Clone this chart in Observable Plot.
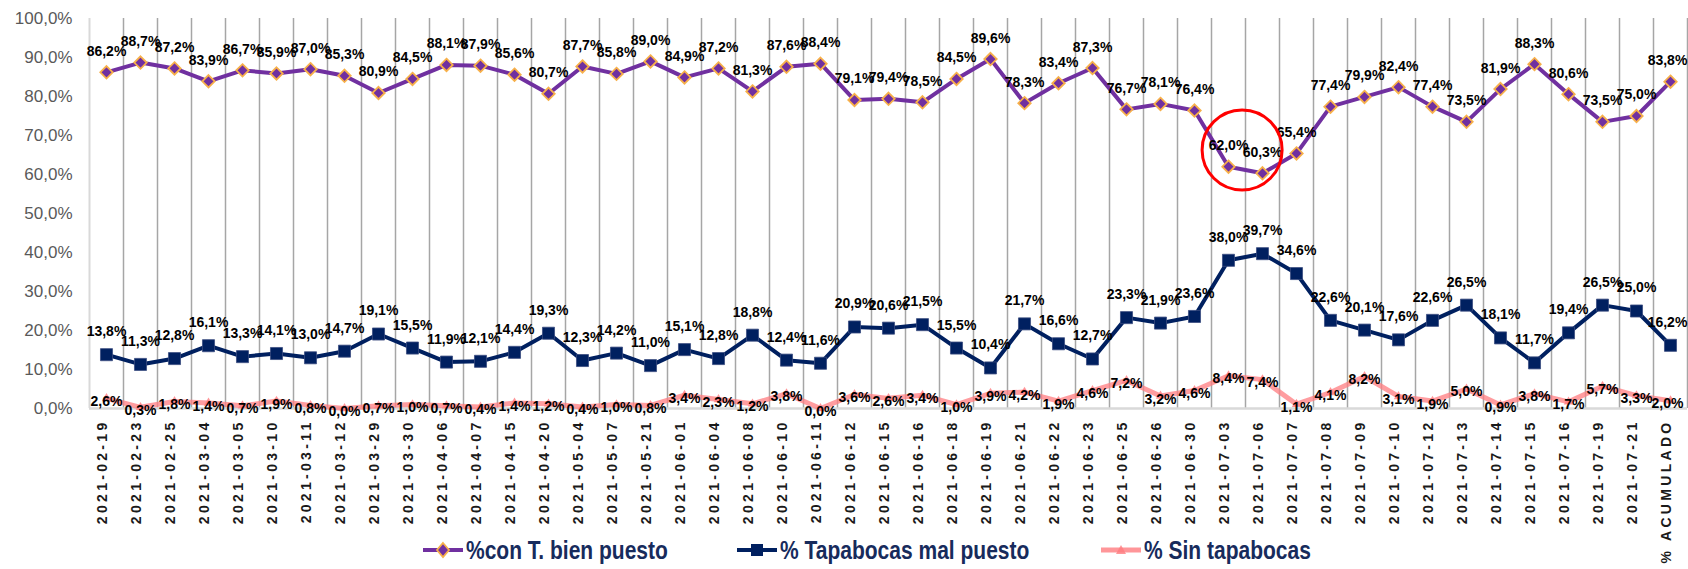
<!DOCTYPE html>
<html>
<head>
<meta charset="utf-8">
<script src="https://cdn.jsdelivr.net/npm/d3@7"></script>
<script src="https://cdn.jsdelivr.net/npm/@observablehq/plot@0.6"></script>
<style>
  html, body { margin: 0; padding: 0; background: #fff; }
  #wrap { position: relative; width: 1688px; height: 569px; overflow: hidden; }
  #wrap svg { font-family: "Liberation Sans", Arial, sans-serif; }
  .legend { position: absolute; top: 535px; height: 30px; display: flex; align-items: center;
            font-family: "Liberation Sans", Arial, sans-serif;
            font-weight: bold; font-size: 25px; color: #172b5c; white-space: nowrap; }
  .legend svg { margin-right: 3px; flex: none; }
  .legend span { display: inline-block; transform: scaleX(0.84); transform-origin: left center; }
</style>
</head>
<body>
<div id="wrap"></div>
<script>
const categories = [
  "2021-02-19","2021-02-23","2021-02-25","2021-03-04","2021-03-05","2021-03-10","2021-03-11","2021-03-12",
  "2021-03-29","2021-03-30","2021-04-06","2021-04-07","2021-04-15","2021-04-20","2021-05-04","2021-05-07",
  "2021-05-21","2021-06-01","2021-06-04","2021-06-08","2021-06-10","2021-06-11","2021-06-12","2021-06-15",
  "2021-06-16","2021-06-18","2021-06-19","2021-06-21","2021-06-22","2021-06-23","2021-06-25","2021-06-26",
  "2021-06-30","2021-07-03","2021-07-06","2021-07-07","2021-07-08","2021-07-09","2021-07-10","2021-07-12",
  "2021-07-13","2021-07-14","2021-07-15","2021-07-16","2021-07-19","2021-07-21","% ACUMULADO"
];
const bienPuesto = [86.2,88.7,87.2,83.9,86.7,85.9,87.0,85.3,80.9,84.5,88.1,87.9,85.6,80.7,87.7,85.8,89.0,84.9,87.2,81.3,
  87.6,88.4,79.1,79.4,78.5,84.5,89.6,78.3,83.4,87.3,76.7,78.1,76.4,62.0,60.3,65.4,77.4,79.9,82.4,77.4,73.5,81.9,88.3,80.6,73.5,75.0,83.8];
const malPuesto = [13.8,11.3,12.8,16.1,13.3,14.1,13.0,14.7,19.1,15.5,11.9,12.1,14.4,19.3,12.3,14.2,11.0,15.1,12.8,18.8,
  12.4,11.6,20.9,20.6,21.5,15.5,10.4,21.7,16.6,12.7,23.3,21.9,23.6,38.0,39.7,34.6,22.6,20.1,17.6,22.6,26.5,18.1,11.7,19.4,26.5,25.0,16.2];
const sinTapabocas = [2.6,0.3,1.8,1.4,0.7,1.9,0.8,0.0,0.7,1.0,0.7,0.4,1.4,1.2,0.4,1.0,0.8,3.4,2.3,1.2,
  3.8,0.0,3.6,2.6,3.4,1.0,3.9,4.2,1.9,4.6,7.2,3.2,4.6,8.4,7.4,1.1,4.1,8.2,3.1,1.9,5.0,0.9,3.8,1.7,5.7,3.3,2.0];
const yTicks = [0,10,20,30,40,50,60,70,80,90,100];
const seriesNames = ["%con T. bien puesto", "% Tapabocas mal puesto", "% Sin tapabocas"];
// red circle highlighting the dip between 2021-07-03 and 2021-07-06 (category index, percent)
const highlight = [{x: 33.4, y: 66.3}];

const C_BIEN = "#7030a0", C_BIEN_EDGE = "#f7b04a", C_MAL = "#002060", C_SIN = "#ff7c80";

const rows = categories.map((c, i) => ({i, c, bien: bienPuesto[i], mal: malPuesto[i], sin: sinTapabocas[i]}));
const n = categories.length;
const inner = rows.slice(0, n - 1), last = rows.slice(n - 1);
const fmt = v => v.toFixed(1).replace(".", ",") + "%";
const labelFont = '"Liberation Sans", Arial, sans-serif';
const LFS = 14;

function labels(data, dx) {
  const o = {fontWeight: "bold", fontSize: LFS, fontFamily: labelFont, fill: "#000", dx};
  return [
    Plot.text(data, {x: "i", y: "sin", text: d => fmt(d.sin), dy: 3, ...o}),
    Plot.text(data, {x: "i", y: "mal", text: d => fmt(d.mal), dy: -23, ...o}),
    Plot.text(data, {x: "i", y: "bien", text: d => fmt(d.bien), dy: -21, ...o})
  ];
}

const chart = Plot.plot({
  width: 1688, height: 569,
  marginLeft: 89, marginRight: 1, marginTop: 18, marginBottom: 161,
  x: {domain: [-0.5, n - 0.5], axis: null},
  y: {domain: [0, 100], axis: null},
  marks: [
    Plot.ruleX(d3.range(0.5, n, 1), {y1: 0, y2: 100, stroke: "#a6a6a6", strokeWidth: 1.5}),
    Plot.ruleX([-0.5], {y1: 0, y2: 100, stroke: "#d9d9d9", strokeWidth: 2}),
    Plot.ruleY([0], {stroke: "#d9d9d9", strokeWidth: 2.5}),
    // % Sin tapabocas
    Plot.line(rows, {x: "i", y: "sin", stroke: C_SIN, strokeOpacity: 0.75, strokeWidth: 5}),
    Plot.dot(rows, {x: "i", y: "sin", symbol: "triangle", r: 3.5, fill: C_SIN, fillOpacity: 0.8}),
    // % Tapabocas mal puesto
    Plot.line(rows, {x: "i", y: "mal", stroke: C_MAL, strokeWidth: 4}),
    Plot.dot(rows, {x: "i", y: "mal", symbol: "square", r: 6.8, fill: C_MAL, stroke: "#3b4c80", strokeWidth: 0.8}),
    // %con T. bien puesto
    Plot.line(rows, {x: "i", y: "bien", stroke: C_BIEN, strokeWidth: 4}),
    Plot.dot(rows, {x: "i", y: "bien", symbol: "diamond2", r: 5.6, fill: C_BIEN, stroke: C_BIEN_EDGE, strokeWidth: 1.8}),
    // data labels
    ...labels(inner, 0),
    ...labels(last, -3),
    // highlight circle
    Plot.dot(highlight, {x: "x", y: "y", r: 40, stroke: "#ff0000", strokeWidth: 3, fill: "none"}),
    // y tick labels
    Plot.text(yTicks, {y: d => d, text: d => fmt(d), frameAnchor: "left", textAnchor: "end", dx: -17, fontSize: 17, fill: "#595959"}),
    // x tick labels
    Plot.text(rows, {x: "i", text: "c", frameAnchor: "bottom", rotate: -90, textAnchor: "end", dy: 11,
      fontWeight: "bold", fontSize: 14, fill: "#1a1a1a"})
  ]
});
// widen the rotated category labels (letter spacing, as in the original)
chart.querySelectorAll("text").forEach(t => {
  const tr = (t.getAttribute("transform") || "") + ((t.parentNode && t.parentNode.getAttribute && t.parentNode.getAttribute("transform")) || "");
  if (tr.includes("rotate")) t.setAttribute("letter-spacing", "3.3");
});
document.getElementById("wrap").appendChild(chart);

// legend
const legendItems = [
  {name: seriesNames[0], left: 423, color: C_BIEN, sym: "diamond"},
  {name: seriesNames[1], left: 737, color: C_MAL, sym: "square"},
  {name: seriesNames[2], left: 1101, color: C_SIN, sym: "triangle"}
];
for (const it of legendItems) {
  const div = document.createElement("div");
  div.className = "legend";
  div.style.left = it.left + "px";
  let marker = "";
  if (it.sym === "diamond") marker = `<path d="M20,4 L26,11 L20,18 L14,11 Z" fill="${C_BIEN}" stroke="${C_BIEN_EDGE}" stroke-width="1.8"/>`;
  if (it.sym === "square") marker = `<rect x="14" y="5" width="12" height="12" fill="${C_MAL}"/>`;
  if (it.sym === "triangle") marker = `<path d="M20,6 L25,15 L15,15 Z" fill="${C_SIN}" fill-opacity="0.8"/>`;
  const op = it.sym === "triangle" ? ' stroke-opacity="0.8"' : "";
  div.innerHTML = `<svg width="40" height="22"><line x1="0" y1="11" x2="40" y2="11" stroke="${it.color}" stroke-width="${it.sym === "triangle" ? 5 : 4}"${op}/>${marker}</svg><span>${it.name}</span>`;
  document.getElementById("wrap").appendChild(div);
}
</script>
</body>
</html>
